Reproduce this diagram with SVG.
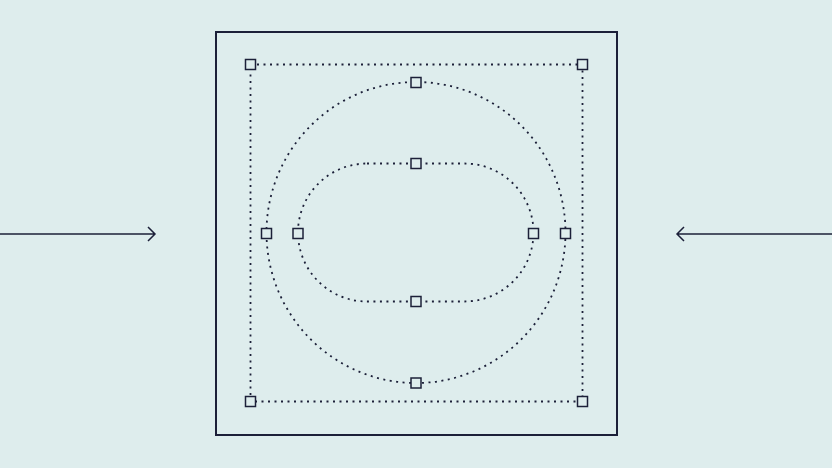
<svg xmlns="http://www.w3.org/2000/svg" width="832" height="468" viewBox="0 0 832 468">
<style>
.dot{fill:none;stroke:#1c2039;stroke-width:1.8;stroke-dasharray:2 4.5}
.h{fill:#deeded;stroke:#1c2039;stroke-width:1.5}
.ln{fill:none;stroke:#1c2039;stroke-width:1.5}
.fr{fill:none;stroke:#1c2039;stroke-width:2}
</style>
<rect width="832" height="468" fill="#deeded"/>
<g id="frame">
<rect x="216" y="32" width="401" height="403" class="fr"/>
</g>
<g id="bbox">
<rect x="250.5" y="64.5" width="332" height="337" class="dot"/>
</g>
<g id="circle">
<ellipse cx="416" cy="232.5" rx="149.5" ry="150.5" class="dot"/>
</g>
<g id="pill">
<rect x="298" y="163.5" width="235.5" height="138" rx="69" ry="69" class="dot"/>
</g>
<g id="handles">
<rect x="245.5" y="59.5" width="10" height="10" class="h"/>
<rect x="577.5" y="59.5" width="10" height="10" class="h"/>
<rect x="245.5" y="396.5" width="10" height="10" class="h"/>
<rect x="577.5" y="396.5" width="10" height="10" class="h"/>
<rect x="411" y="77.5" width="10" height="10" class="h"/>
<rect x="411" y="378" width="10" height="10" class="h"/>
<rect x="261.5" y="228.5" width="10" height="10" class="h"/>
<rect x="560.5" y="228.5" width="10" height="10" class="h"/>
<rect x="411" y="158.5" width="10" height="10" class="h"/>
<rect x="411" y="296.5" width="10" height="10" class="h"/>
<rect x="293" y="228.5" width="10" height="10" class="h"/>
<rect x="528.5" y="228.5" width="10" height="10" class="h"/>
</g>
<g id="connectors">
<path d="M0 234H155M148 227L155 234L148 241" class="ln"/>
<path d="M832 234H677M684 227L677 234L684 241" class="ln"/>
</g>
</svg>
